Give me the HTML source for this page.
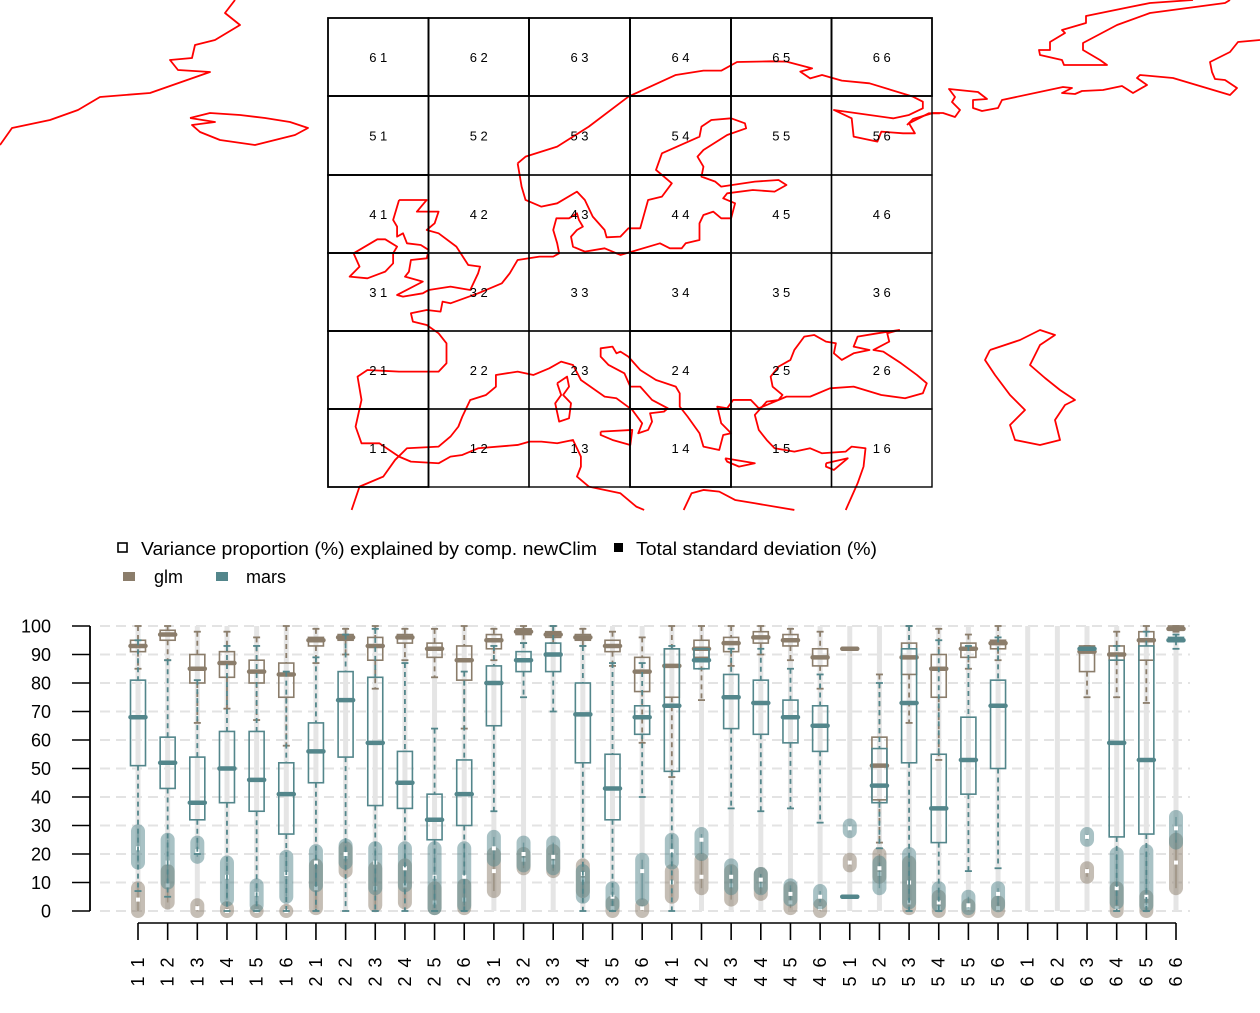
<!DOCTYPE html>
<html><head><meta charset="utf-8"><style>
html,body{margin:0;padding:0;background:#fff;}
svg{display:block;font-family:"Liberation Sans",sans-serif;}
</style></head><body>
<svg id="fig" width="1260" height="1013" viewBox="0 0 1260 1013" xmlns="http://www.w3.org/2000/svg">
<g id="map">
  <g fill="none" stroke="#ff0000" stroke-width="1.8" stroke-linejoin="round">
    <polyline points="0,145 12,128 50,120 78,110 100,97 150,93 210,72 178,70 170,60 192,58 195,45 215,40 240,25 225,13 235,0"/>
    <polyline points="190,118 210,113 240,115 265,118 290,122 308,128 295,135 255,145 220,140 200,132 192,125 215,122 190,118"/>
    <polyline points="1230,0 1225,3 1150,13 1117,25 1083,43 1083,50 1100,60 1107,65 1064,65 1062,60 1040,55 1039,50 1050,50 1050,42 1065,33 1062,30 1086,23 1086,16 1130,7 1150,3 1193,0"/>
    <polyline points="907,125 913,119 933,113 943,113 955,117 960,110 952,102 955,97 949,89 978,92 987,99 973,100 973,108 982,111 998,108 1002,100 1063,87 1072,88 1062,93 1075,94 1082,91 1103,90 1122,86 1133,93 1147,85 1137,78 1140,75 1173,78 1230,95 1237,88 1225,80 1215,79 1212,72 1210,62 1230,52 1238,42 1260,40"/>
    <polyline points="990,350 1020,340 1040,330 1055,335 1040,345 1030,365 1045,378 1060,390 1075,400 1065,405 1055,420 1060,440 1040,445 1015,440 1010,425 1025,410 1010,395 995,375 985,360 990,350"/>
    <g transform="translate(320,0) scale(0.3953,0.3333)">
      <polyline vector-effect="non-scaling-stroke" points="500,490 520,470 600,440 680,380 780,290 900,225 970,212 1015,212 1055,186 1140,184 1180,185 1245,205 1215,215 1240,235 1270,225 1320,242 1390,250 1500,290 1525,305 1525,325 1490,345 1450,355 1300,330 1345,355 1350,410 1410,425 1420,395 1475,400 1505,400 1490,370 1540,340 1568,340"/>
      <polyline vector-effect="non-scaling-stroke" points="500,490 510,560 520,600 560,620 600,610 650,575 670,600 690,650 720,690 725,712 760,710 780,685 810,685 830,600 865,590 890,550 850,510 865,460 960,410 965,380 990,360 1040,355 1075,370 1078,385 1030,405 970,450 955,470 970,500 965,530 1000,545 1015,560 1100,545 1160,540 1180,555 1150,575 1095,570 1030,580 1020,595 1050,610 1040,655 1015,655 995,635 970,645 960,670 960,720 925,730 915,745 885,745 860,730 760,765 720,745 670,755 640,740 635,710 650,690 665,680 655,660 650,640 630,655 598,655 590,690 600,730 605,760 590,770 555,770 500,780 480,820 460,850 400,880 330,910 310,905 305,935 270,930 230,940 235,965 270,975 300,1000 320,1030 320,1090 300,1115 200,1115 120,1110 95,1130 105,1200 90,1280 105,1330 150,1330 200,1370 230,1385 300,1390 330,1370 360,1365 400,1345 500,1335 530,1325 560,1325 600,1330 640,1320 650,1345 660,1370 660,1400 650,1430 680,1460 760,1480 800,1520 820,1530"/>
      <polyline vector-effect="non-scaling-stroke" points="80,1530 100,1460 160,1430 190,1380 220,1345 300,1340 330,1310 350,1280 360,1250 380,1200 420,1185 445,1160 445,1125 500,1115 540,1125 580,1105 610,1085 640,1095 660,1140 720,1190 750,1195 790,1230 815,1270 805,1300 830,1290 840,1265 835,1240 870,1235 880,1225 840,1200 810,1160 785,1160 770,1120 730,1095 710,1070 710,1045 740,1040 750,1060 760,1055 780,1070 810,1110 850,1140 900,1160 910,1180 910,1220 930,1250 960,1300 970,1340 1010,1350 1020,1305 1040,1300 1015,1270 1005,1220 1030,1225 1045,1200 1090,1200 1110,1225 1140,1210 1180,1190 1240,1190 1290,1165 1350,1160 1420,1185 1480,1195 1525,1180 1535,1150 1510,1125 1470,1090 1425,1055 1400,1050 1440,1025 1435,1000 1465,990 1410,1000 1360,1010 1350,1040 1390,1050 1350,1060 1320,1080 1300,1060 1305,1030 1280,1025 1250,1005 1225,1010 1200,1050 1190,1080 1160,1100 1140,1130 1145,1160 1170,1185 1160,1200 1130,1205 1100,1245 1110,1290 1130,1320 1150,1345 1200,1355 1240,1345 1270,1360 1330,1355 1345,1340 1380,1345 1375,1400 1360,1450 1330,1530"/>
      <polyline vector-effect="non-scaling-stroke" points="200,600 270,600 245,635 300,635 290,670 270,690 300,700 345,740 375,795 405,800 400,820 380,870 330,860 275,870 260,880 210,890 195,885 260,845 215,830 225,815 230,780 270,775 275,750 255,735 220,730 210,700 195,710 195,680 185,660 200,600"/>
      <polyline vector-effect="non-scaling-stroke" points="85,760 145,718 165,718 195,740 185,760 185,790 165,815 120,835 75,830 100,800 85,760"/>
      <polyline vector-effect="non-scaling-stroke" points="600,1150 625,1130 630,1160 615,1185 635,1210 630,1255 605,1265 595,1210 610,1185 600,1150"/>
      <polyline vector-effect="non-scaling-stroke" points="710,1295 790,1290 785,1335 740,1320 710,1305 710,1295"/>
      <polyline vector-effect="non-scaling-stroke" points="1025,1375 1100,1390 1060,1400 1030,1385 1025,1375"/>
      <polyline vector-effect="non-scaling-stroke" points="1280,1390 1335,1375 1300,1410 1280,1400 1280,1390"/>
      <polyline vector-effect="non-scaling-stroke" points="920,1530 940,1480 970,1470 1010,1475 1050,1500 1100,1510 1200,1530"/>
    </g>
  </g>
  <g id="grid"></g>
</g>
<g id="legend" font-size="18" fill="#000">
  <rect x="118" y="543" width="9" height="9" fill="none" stroke="#000" stroke-width="1.6"/>
  <text x="141" y="555" textLength="456" lengthAdjust="spacingAndGlyphs">Variance proportion (%) explained by comp. newClim</text>
  <rect x="614" y="543" width="9" height="9" fill="#000"/>
  <text x="636" y="555" textLength="241" lengthAdjust="spacingAndGlyphs">Total standard deviation (%)</text>
  <rect x="123" y="572" width="12" height="9" fill="#8b7d6b"/>
  <text x="154" y="583">glm</text>
  <rect x="216" y="572" width="12" height="9" fill="#53868b"/>
  <text x="246" y="583">mars</text>
</g>
<g id="chart"></g>
</svg>
<script>
const cells = ["11","12","13","14","15","16","21","22","23","24","25","26","31","32","33","34","35","36","41","42","43","44","45","46","51","52","53","54","55","56","61","62","63","64","65","66"];
// variance boxes: [whiskerLow, q1, median, q3, whiskerHigh]; null = no data
const glmVar = [[85,91,93,95,100],[88,95,97,98.5,100],[66,80,85,90,98],[71,82,87,91,98],[67,80,84,88,96],[58,75,83,87,100],[87,93,95,96,99],[90,95,96,97,99],[78,88,93,96,100],[88,94,96,97,99],[82,89,92,94,99],[64,81,88,93,100],[88,92,95,97,99],[94,97,98,99,100],[94,96,97,98,100],[93,95,96,97,99],[86,91,93,95,98],[59,77,84,89,96],[47,75,86,92,100],[74,89,92,95,100],[86,91,94,96,100],[90,94,96,98,100],[88,93,95,97,99],[78,86,89,92,98],[92,92,92,92,92],[24,39,51,61,83],[66,83,89,94,100],[53,75,85,90,99],[85,89,92,94,97],[88,92,94,95,100],null,null,[75,84,91,93,93],[75,88,90,93,98],[73,88,95,98,100],[98,99,99,100,100]];
const marsVar = [[7,51,68,81,95],[5,43,52,61,88],[20,32,38,54,81],[0,38,50,63,93],[0,35,46,63,93],[0,27,41,52,84],[0,45,56,66,89],[0,54,74,84,97],[0,37,59,82,99],[0,36,45,56,87],[0,25,32,41,64],[0,30,41,53,84],[35,65,80,86,93],[75,84,88,91,94],[70,84,90,94,100],[0,52,69,80,93],[0,32,43,55,87],[40,62,68,72,87],[0,49,72,92,93],[85,85,88,92,92],[36,64,75,83,92],[35,62,73,81,92],[36,59,68,74,85],[31,56,65,72,83],[5,5,5,5,5],[22,38,44,57,80],[0,52,73,92,100],[0,24,36,55,95],[14,41,53,68,93],[15,50,72,81,96],null,null,[92,92,92,92,92],[0,26,59,88,93],[0,27,53,93,98],[92,95,95,96,97]];
// total standard deviation: [low, median, high]
const glmSd = [[0,4,8],[3,9,14],[0,1,2],[0,0,1],[0,0,0],[0,0,0],[1,8,16],[14,19,22],[2,8,15],[3,9,16],[1,3,8],[1,4,9],[7,14,20],[15,18,20],[14,17,21],[7,11,16],[0,1,3],[0,1,2],[5,10,14],[8,12,18],[4,9,14],[6,9,13],[1,3,8],[0,1,2],[16,17,18],[12,13,20],[1,3,17],[0,1,5],[0,1,2],[0,1,3],null,null,[12,14,15],[0,1,8],[0,2,5],[8,17,25]];
const marsSd = [[17,22,28],[10,17,25],[19,21,24],[4,12,17],[2,6,9],[5,13,19],[9,17,21],[17,20,23],[8,17,22],[9,15,22],[1,12,22],[2,12,22],[18,22,26],[16,20,24],[15,19,24],[5,13,14],[2,5,8],[4,14,18],[17,21,25],[20,25,27],[8,12,16],[8,11,13],[4,6,9],[3,5,7],[28,29,30],[8,15,17],[3,10,20],[2,3,8],[1,2,5],[2,6,8],null,null,[25,26,27],[3,8,20],[2,5,21],[24,29,33]];
const yTicks = [0,10,20,30,40,50,60,70,80,90,100];

const NS = "http://www.w3.org/2000/svg";
function mk(tag, attrs, parent){const e=document.createElementNS(NS,tag);for(const k in attrs)e.setAttribute(k,attrs[k]);parent.appendChild(e);return e;}

const grid=document.getElementById('grid');
const gx=[328,428.5,529,630,731,831.5,932], gy=[18,96,175,253,331,409,487];
const rowsTop=["6","5","4","3","2","1"];
for(let r=0;r<6;r++){for(let c=0;c<6;c++){
  const rc=mk('rect',{x:gx[c],y:gy[r],width:gx[c+1]-gx[c],height:gy[r+1]-gy[r],fill:'none',stroke:'#000','stroke-width':(c===0||c===3||r===0)?1.8:1.4},grid);
  
  
  const t=mk('text',{x:(gx[c]+gx[c+1])/2,y:(gy[r]+gy[r+1])/2+5,'text-anchor':'middle','font-size':13,fill:'#000'},grid);
  t.textContent=rowsTop[r]+" "+(c+1);
  
  
}}

const chart=document.getElementById('chart');
const X0=138, DX=(1176-138)/35;
const xs=i=>X0+i*DX;
const ys=v=>911-v*2.85;
const GLM="#8b7d6b", MARS="#53868b";

yTicks.forEach(v=>{
  const l=mk('line',{x1:100,x2:1190,y1:ys(v),y2:ys(v),stroke:'#e3e3e3','stroke-width':2,'stroke-dasharray':'10,6'},chart);
  
  
});
cells.forEach((c,i)=>{
  const l=mk('line',{x1:xs(i),x2:xs(i),y1:ys(100),y2:ys(0),stroke:'#e5e5e5','stroke-width':5},chart);
  
  
});
function capsule(d,i,color,name){
  if(!d)return;
  const g=mk('g',{},chart);
  
  
  const x=xs(i);
  mk('line',{x1:x,x2:x,y1:ys(d[0]),y2:ys(d[2])-0.01,stroke:color,'stroke-width':14,'stroke-linecap':'round','stroke-opacity':0.5},g);
  mk('line',{x1:x,x2:x,y1:ys(d[0]),y2:ys(d[2]),stroke:color,'stroke-width':1.5,'stroke-opacity':0.6},g);
  mk('rect',{x:x-2,y:ys(d[1])-2,width:4,height:4,fill:'#fff'},g);
}
cells.forEach((c,i)=>{capsule(glmSd[i],i,GLM,'sd-glm-'+c);});
cells.forEach((c,i)=>{capsule(marsSd[i],i,MARS,'sd-mars-'+c);});
function box(d,i,color,name){
  if(!d)return;
  const g=mk('g',{},chart);
  
  
  const x=xs(i), w=15;
  mk('line',{x1:x,x2:x,y1:ys(d[4]),y2:ys(d[3]),stroke:color,'stroke-width':1.8,'stroke-dasharray':'5,4'},g);
  mk('line',{x1:x,x2:x,y1:ys(d[1]),y2:ys(d[0]),stroke:color,'stroke-width':1.8,'stroke-dasharray':'5,4'},g);
  mk('line',{x1:x-3.5,x2:x+3.5,y1:ys(d[4]),y2:ys(d[4]),stroke:color,'stroke-width':1.8},g);
  mk('line',{x1:x-3.5,x2:x+3.5,y1:ys(d[0]),y2:ys(d[0]),stroke:color,'stroke-width':1.8},g);
  if(d[3]-d[1]>0.5) mk('rect',{x:x-w/2,y:ys(d[3]),width:w,height:ys(d[1])-ys(d[3]),fill:'none',stroke:color,'stroke-width':1.6},g);
  mk('line',{x1:x-w/2,x2:x+w/2,y1:ys(d[2]),y2:ys(d[2]),stroke:color,'stroke-width':4.5,'stroke-linecap':'round'},g);
}
cells.forEach((c,i)=>{box(glmVar[i],i,GLM,'box-glm-'+c);});
cells.forEach((c,i)=>{box(marsVar[i],i,MARS,'box-mars-'+c);});

const ya=mk('g',{},chart);


mk('line',{x1:90,x2:90,y1:ys(100),y2:ys(0),stroke:'#000','stroke-width':1.8},ya);
yTicks.forEach(v=>{
  mk('line',{x1:72,x2:90,y1:ys(v),y2:ys(v),stroke:'#000','stroke-width':1.5},ya);
  const t=mk('text',{x:51,y:ys(v)+6.5,'text-anchor':'end','font-size':18,fill:'#000'},ya);
  t.textContent=v;
  
  
});
const xa=mk('g',{},chart);


mk('line',{x1:xs(0),x2:xs(35),y1:923,y2:923,stroke:'#000','stroke-width':1.6},xa);
cells.forEach((c,i)=>{
  mk('line',{x1:xs(i),x2:xs(i),y1:923,y2:940,stroke:'#000','stroke-width':1.6},xa);
  const t=mk('text',{x:0,y:0,'text-anchor':'middle','font-size':18,fill:'#000','letter-spacing':'2',transform:`translate(${xs(i)+6},971) rotate(-90)`},xa);
  t.textContent=c[0]+" "+c[1];
  
  
});
</script>
</body></html>
